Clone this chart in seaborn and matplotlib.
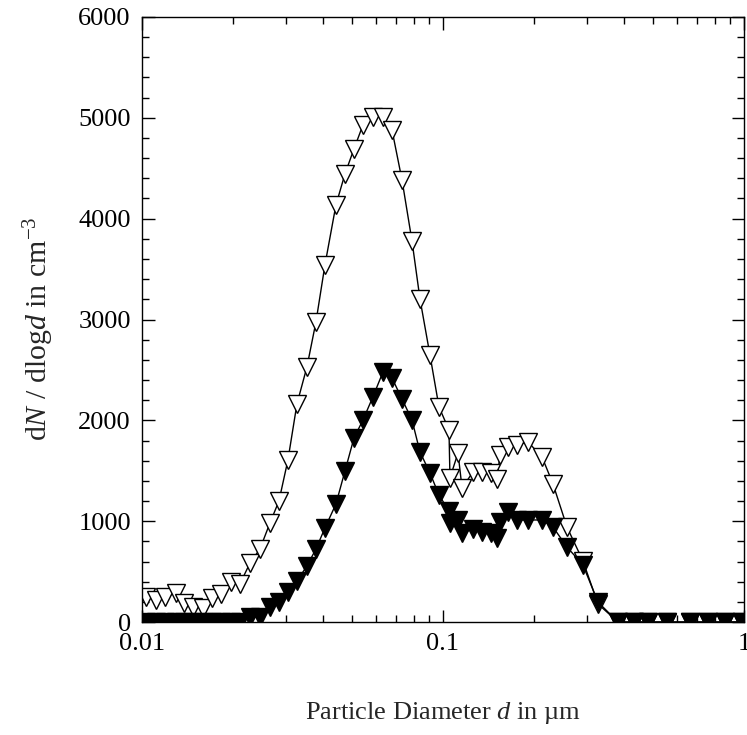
import numpy as np
import pandas as pd
import seaborn as sns
import matplotlib
matplotlib.use("Agg")
import matplotlib.pyplot as plt
from matplotlib.ticker import LogLocator, FixedLocator, MultipleLocator, FuncFormatter

# particle diameters in um
diameter = [0.01031, 0.01113, 0.01192, 0.01297, 0.01379, 0.01477, 0.01594, 0.01709,
            0.01830, 0.01975, 0.02116, 0.02285, 0.02466, 0.02662, 0.02852, 0.03055,
            0.03273, 0.03533, 0.03785, 0.04055, 0.04411, 0.04726, 0.05063, 0.05424,
            0.05850, 0.06321, 0.06771, 0.07309, 0.07889, 0.08387, 0.09052, 0.09699,
            0.1047, 0.1055, 0.1122, 0.1157, 0.1258, 0.1348, 0.1444, 0.1512,
            0.1547, 0.1644, 0.1762, 0.1916, 0.2133, 0.2320, 0.2582, 0.2918,
            0.3273, 0.3815, 0.4312, 0.4799, 0.5548, 0.6616, 0.7594, 0.8646, 0.9849]

# open triangles
conc_open = [248, 218, 248, 288, 188, 149, 139, 238,
             278, 397, 377, 585, 724, 982, 1200, 1607,
             2163, 2530, 2976, 3542, 4137, 4444, 4692, 4930,
             5010, 5005, 4880, 4385, 3780, 3204, 2649, 2133,
             1905, 1429, 1677, 1329, 1488, 1488, 1478, 1419,
             1657, 1736, 1756, 1786, 1637, 1369, 942, 605,
             179, 0, 0, 0, 0, 0, 0, 0, 0]

# filled triangles
conc_filled = [0, 0, 0, 0, 0, 0, 0, 0,
               0, 0, 0, 50, 50, 149, 198, 298,
               407, 556, 724, 933, 1171, 1498, 1825, 2004,
               2232, 2480, 2420, 2212, 2004, 1687, 1478, 1260,
               1101, 982, 1012, 883, 923, 893, 883, 833,
               992, 1091, 1012, 1012, 1012, 942, 744, 565,
               198, 0, 0, 0, 0, 0, 0, 0, 0]

df = pd.DataFrame({"d": diameter, "open": conc_open, "filled": conc_filled})

sns.set_style("ticks")
plt.rcParams["font.family"] = ["Liberation Serif", "DejaVu Serif"]
plt.rcParams["mathtext.fontset"] = "custom"
plt.rcParams["mathtext.rm"] = "Liberation Serif"
plt.rcParams["mathtext.it"] = "Liberation Serif:italic"

fig = plt.figure(figsize=(7.47, 7.35), dpi=100)
ax = fig.add_axes([0.190, 0.1537, 0.806, 0.8232])

sns.lineplot(data=df, x="d", y="open", ax=ax, color="black", lw=1, sort=False,
             marker="v", markersize=13, markerfacecolor="white",
             markeredgecolor="black", markeredgewidth=1)
sns.lineplot(data=df, x="d", y="filled", ax=ax, color="black", lw=1, sort=False,
             marker="v", markersize=13, markerfacecolor="black",
             markeredgecolor="black", markeredgewidth=1)

ax.set_xscale("log")
ax.set_xlim(0.01, 1)
ax.set_ylim(0, 6000)
ax.xaxis.set_major_locator(FixedLocator([0.01, 0.1, 1]))
ax.xaxis.set_major_formatter(FuncFormatter(lambda v, p: f"{v:g}"))
ax.xaxis.set_minor_locator(LogLocator(base=10, subs=np.arange(2, 10)))
ax.xaxis.set_minor_formatter(FuncFormatter(lambda v, p: ""))
ax.yaxis.set_major_locator(MultipleLocator(1000))
ax.yaxis.set_minor_locator(MultipleLocator(200))

ax.tick_params(which="both", direction="in", top=True, right=True,
               labelsize=19, colors="black", width=1)
ax.tick_params(which="major", length=9, pad=8)
ax.tick_params(which="minor", length=5)
for s in ax.spines.values():
    s.set_visible(True)
    s.set_color("black")
    s.set_linewidth(1)

ax.set_xlabel("Particle Diameter $d$ in \u00b5m", fontsize=19, labelpad=32)
ax.set_ylabel("d$N$ / dlog$d$ in cm$^{-3}$", fontsize=21.5, labelpad=16)
ax.yaxis.label.set_y(0.485)

fig.savefig("out.png", dpi=100)
